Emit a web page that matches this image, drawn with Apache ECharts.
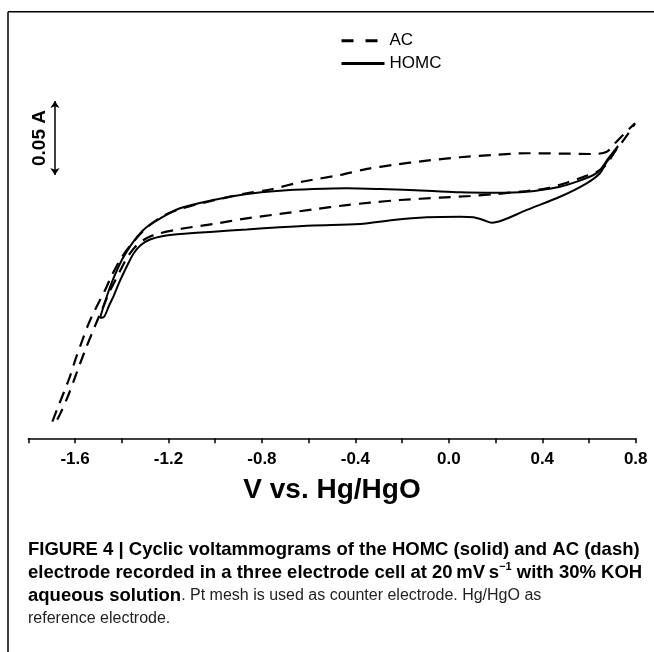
<!DOCTYPE html>
<html>
<head>
<meta charset="utf-8">
<script src="https://cdn.jsdelivr.net/npm/echarts@6/dist/echarts.min.js"></script>
<style>
html,body{margin:0;padding:0;background:#fff;}
#chart{width:654px;height:652px;}
</style>
</head>
<body>
<div id="chart"></div>
<script>
// ---- Data (V vs. Hg/HgO, current in A) ----
const acForwardV = [-1.697,-1.673,-1.647,-1.621,-1.596,-1.570,-1.544,-1.519,-1.493,-1.467,-1.442,-1.407,-1.365,-1.293,-1.223,-1.151,-1.009,-0.860,-0.765,-0.624,-0.466,-0.350,-0.238,-0.095,0.048,0.191,0.334,0.476,0.619,0.676,0.712,0.754,0.797];
const acForwardI = [-0.1388,-0.1289,-0.1187,-0.1079,-0.0957,-0.0843,-0.0734,-0.0647,-0.0566,-0.0484,-0.0397,-0.0295,-0.0201,-0.0076,0.0002,0.0049,0.0107,0.0157,0.0181,0.0235,0.0279,0.0320,0.0347,0.0376,0.0399,0.0414,0.0426,0.0424,0.0421,0.0436,0.0495,0.0563,0.0628];
const acReverseV = [0.776,0.742,0.707,0.677,0.633,0.575,0.505,0.419,0.334,0.191,0.091,-0.038,-0.209,-0.337,-0.437,-0.580,-0.723,-0.865,-1.008,-1.151,-1.250,-1.300,-1.343,-1.378,-1.403,-1.429,-1.455,-1.476,-1.502,-1.527,-1.553,-1.579,-1.604,-1.630,-1.656,-1.681];
const acReverseI = [0.0576,0.0502,0.0428,0.0353,0.0299,0.0266,0.0227,0.0189,0.0171,0.0149,0.0137,0.0126,0.0110,0.0092,0.0076,0.0047,0.0016,-0.0014,-0.0052,-0.0086,-0.0120,-0.0153,-0.0207,-0.0282,-0.0356,-0.0437,-0.0518,-0.0599,-0.0694,-0.0789,-0.0890,-0.0998,-0.1106,-0.1214,-0.1309,-0.1383];

const homcForwardV = [-1.493,-1.476,-1.459,-1.442,-1.420,-1.395,-1.365,-1.330,-1.293,-1.236,-1.151,-1.008,-0.865,-0.723,-0.580,-0.437,-0.294,-0.095,0.048,0.191,0.334,0.476,0.548,0.619,0.647,0.683,0.724];
const homcForwardI = [-0.0687,-0.0599,-0.0518,-0.0444,-0.0363,-0.0282,-0.0205,-0.0130,-0.0072,-0.0015,0.0054,0.0110,0.0151,0.0173,0.0184,0.0189,0.0184,0.0173,0.0162,0.0159,0.0166,0.0200,0.0234,0.0279,0.0313,0.0392,0.0475];
const homcReverseV = [0.704,0.676,0.647,0.590,0.476,0.334,0.233,0.184,0.148,0.105,0.048,-0.095,-0.238,-0.380,-0.580,-0.723,-0.865,-1.008,-1.151,-1.222,-1.279,-1.318,-1.348,-1.369,-1.390,-1.412,-1.433,-1.455,-1.476];
const homcReverseI = [0.0421,0.0367,0.0291,0.0223,0.0132,0.0043,-0.0025,-0.0043,-0.0025,-0.0007,-0.0003,-0.0007,-0.0025,-0.0052,-0.0062,-0.0074,-0.0089,-0.0104,-0.0120,-0.0133,-0.0157,-0.0194,-0.0248,-0.0309,-0.0376,-0.0451,-0.0532,-0.0606,-0.0680];

const scaleBarV = -1.686;
const scaleBarI = [0.0279, 0.0779];
const scaleBarLabel = '0.05 A';

const seriesNames = ['AC', 'HOMC'];
const xMin = -1.8, xMax = 0.8, xStep = 0.2;
const yMin = -0.15, yMax = 0.09;
const xAxisName = 'V vs. Hg/HgO';

const captionLines = [
  [{t:'FIGURE 4 | Cyclic voltammograms of the HOMC (solid) and AC (dash)', s:'b'}],
  [{t:'electrode recorded in a three electrode cell at 20\u2009mV\u2009s', s:'b'}, {t:'\u22121', s:'sup'}, {t:' with 30% KOH', s:'b'}],
  [{t:'aqueous solution', s:'b'}, {t:'. Pt mesh is used as counter electrode. Hg/HgO as', s:'n'}],
  [{t:'reference electrode.', s:'n'}]
];

// ---- Build ----
function zip(vs, is) { return vs.map((v, k) => [v, is[k]]); }
const acData = zip(acForwardV, acForwardI).concat(zip(acReverseV, acReverseI)).concat([[acForwardV[0], acForwardI[0]]]);
const homcData = zip(homcForwardV, homcForwardI).concat(zip(homcReverseV, homcReverseI)).concat([[homcForwardV[0], homcForwardI[0]]]);

const FONT = '"Liberation Sans", Arial, sans-serif';
const chart = echarts.init(document.getElementById('chart'), null, {renderer: 'canvas'});

const captionText = captionLines.map(line => line.map(seg => '{' + seg.s + '|' + seg.t + '}').join('')).join('\n');

chart.setOption({
  animation: false,
  backgroundColor: '#fff',
  color: ['#000', '#000', '#000'],
  grid: {left: 28.3, right: 18.3, top: 83.1, bottom: 213.7, containLabel: false},
  legend: {
    orient: 'vertical', left: 341.5, top: 32.3, padding: 0, itemWidth: 43, itemHeight: 3, itemGap: 5.6,
    textStyle: {fontFamily: FONT, fontSize: 17, color: '#000', lineHeight: 17},
    data: [
      {name: seriesNames[0], icon: 'path://M0,0h12v3h-12z M24,0h12v3h-12z M43,0L43,3', itemStyle: {color: '#000'}},
      {name: seriesNames[1], icon: 'path://M0,0h43v3h-43z', itemStyle: {color: '#000'}}
    ]
  },
  xAxis: {
    type: 'value', min: xMin, max: xMax, interval: xStep,
    name: xAxisName, nameLocation: 'middle', nameGap: 38,
    nameTextStyle: {fontFamily: FONT, fontSize: 28, fontWeight: 'bold', color: '#000'},
    axisLine: {show: true, onZero: false, lineStyle: {color: '#000', width: 1.5}},
    axisTick: {show: true, inside: false, length: 5, lineStyle: {color: '#000', width: 1.5}},
    splitLine: {show: false},
    axisLabel: {
      margin: 13, fontFamily: FONT, fontSize: 17, fontWeight: 'bold', color: '#000',
      formatter: v => (Math.round(v * 10) % 4 === 0 ? v.toFixed(1) : '')
    }
  },
  yAxis: {type: 'value', min: yMin, max: yMax, show: false},
  series: [
    {
      name: seriesNames[0], type: 'line', data: acData, symbol: 'none', smooth: 0.3,
      itemStyle: {color: '#000'},
      lineStyle: {color: '#000', width: 2.2, type: [12, 8]}, z: 3
    },
    {
      name: seriesNames[1], type: 'line', data: homcData, symbol: 'none', smooth: 0.3,
      itemStyle: {color: '#000'},
      lineStyle: {color: '#000', width: 2, type: 'solid'}, z: 4
    },
    {
      name: 'scale', type: 'line', data: [], silent: true,
      markLine: {
        silent: true, symbol: ['arrow', 'arrow'], symbolSize: 7,
        lineStyle: {color: '#000', width: 1.5, type: 'solid'},
        label: {show: true, position: 'middle', formatter: scaleBarLabel, fontFamily: FONT, fontSize: 19, fontWeight: 'bold', color: '#000', distance: 6},
        emphasis: {disabled: true},
        data: [[{coord: [scaleBarV, scaleBarI[0]]}, {coord: [scaleBarV, scaleBarI[1]]}]]
      }
    }
  ],
  graphic: [
    {type: 'line', shape: {x1: 8, y1: 11.7, x2: 654, y2: 11.7}, style: {stroke: '#000', lineWidth: 1.5}, silent: true},
    {type: 'line', shape: {x1: 8, y1: 11.7, x2: 8, y2: 652}, style: {stroke: '#000', lineWidth: 1.5}, silent: true},
    {
      type: 'text', left: 28, top: 538.5, silent: true,
      style: {
        text: captionText, fontFamily: FONT, fontSize: 16, lineHeight: 22.8, fill: '#000',
        rich: {
          b: {fontFamily: FONT, fontSize: 18.5, fontWeight: 'bold', fill: '#000', lineHeight: 22.8},
          n: {fontFamily: FONT, fontSize: 16, fontWeight: 'normal', fill: '#222', lineHeight: 22.8},
          sup: {fontFamily: FONT, fontSize: 11, fontWeight: 'bold', fill: '#000', verticalAlign: 'top', lineHeight: 22.8, padding: [0, 0, 8, 0]}
        }
      }
    }
  ]
});
</script>
</body>
</html>
